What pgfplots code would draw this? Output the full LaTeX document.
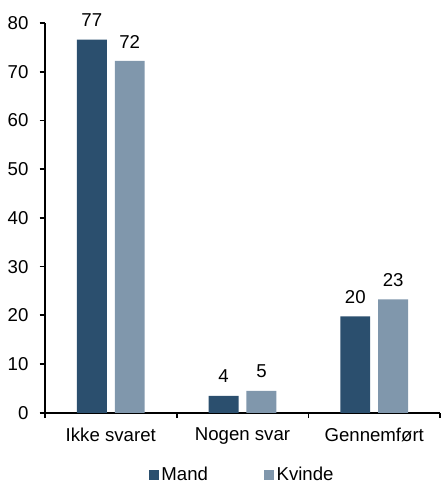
\documentclass[border=0pt]{standalone}
\usepackage{pgfplots}
\pgfplotsset{compat=1.18}
\usepackage{fontspec}
\setmainfont{Liberation Sans}
\definecolor{mand}{HTML}{2B4F6E}
\definecolor{kvinde}{HTML}{8097AC}
\begin{document}
\fontsize{14}{16}\selectfont
\begin{tikzpicture}
\begin{axis}[
    name=main,
    scale only axis,
    width=297pt,
    height=293pt,
    ybar=6pt,
    bar width=22.5pt,
    xmin=0.5, xmax=3.5,
    ymin=0, ymax=80,
    ytick={0,10,...,80},
    xtick={1,2,3},
    xticklabels={Ikke svaret, Nogen svar, Gennemført},
    minor xtick={0.5,1.5,2.5,3.5},
    major x tick style={draw=none},
    tick align=outside,
    major tick length=4pt,
    minor tick length=4pt,
    tick style={black, line width=1.3pt},
    axis x line*=bottom,
    axis y line*=left,
    axis line style={-, line width=1.3pt},
    xtick pos=bottom, ytick pos=left,
    tick label style={font=\fontsize{14}{16}\selectfont},
    yticklabel style={xshift=-3.5pt},
    xticklabel style={yshift=-2.5pt},
    /pgf/number format/assume math mode=true,
    point meta=explicit symbolic,
    nodes near coords,
    nodes near coords style={font=\fontsize{14}{16}\selectfont, yshift=4.75pt},
    legend style={at={(0.5,-0.16)}, anchor=center, draw=none, legend columns=2,
        font=\fontsize{14}{16}\selectfont,
        /tikz/every even column/.append style={column sep=40pt}},
    legend image code/.code={\fill[#1] (0pt,-3.75pt) rectangle (7.5pt,3.75pt);},
]
\addplot[draw=none, fill=mand] coordinates {(1,76.6) [77] (2,3.5) [4] (3,19.8) [20]};
\addplot[draw=none, fill=kvinde] coordinates {(1,72.2) [72] (2,4.5) [5] (3,23.3) [23]};
\legend{Mand, Kvinde}
\end{axis}
\pgfresetboundingbox
\useasboundingbox ([xshift=-33.75pt,yshift=-55pt]main.south west) rectangle ([xshift=0.6pt,yshift=17.25pt]main.north east);
\end{tikzpicture}
\end{document}
